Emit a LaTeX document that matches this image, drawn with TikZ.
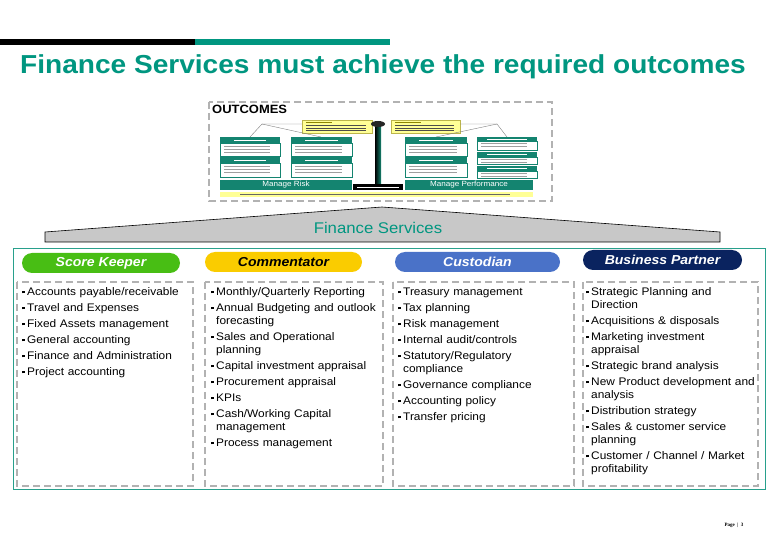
\documentclass[tikz,border=0pt]{standalone}
\usepackage{fontspec}
\setmainfont{Liberation Sans}[FakeStretch=1.08]
\newfontfamily\pagefont{Liberation Serif}
\usetikzlibrary{positioning}

\definecolor{tealfin}{RGB}{0,150,128}
\definecolor{boxteal}{RGB}{40,160,140}
\definecolor{skgreen}{RGB}{72,190,20}
\definecolor{cmyellow}{RGB}{250,204,0}
\definecolor{cublue}{RGB}{74,114,200}
\definecolor{bpnavy}{RGB}{10,35,95}
\definecolor{dashgray}{RGB}{178,178,178}
\definecolor{bandgray}{RGB}{200,200,200}
\definecolor{thumbteal}{RGB}{20,132,112}
\definecolor{thumbyellow}{RGB}{255,255,150}

% voce di elenco con quadratino e rientro sospeso
\newcommand{\itm}{\par\parskip=3pt\hangindent=5pt\hangafter=1\noindent\makebox[5pt][l]{\rule[1.9pt]{2.6pt}{2.6pt}}}

\begin{document}
\begin{tikzpicture}[x=1pt, y=-1pt,
    pill/.style={rounded corners=10pt, minimum height=20pt, inner sep=0pt,
                 font=\fontsize{13}{15}\selectfont\bfseries\itshape},
    itemlist/.style={anchor=north west, inner sep=0pt, text width=180pt, align=left,
                     font=\fontsize{11}{13}\selectfont},
    colbox/.style={draw=dashgray, line width=1.6pt, dash pattern=on 7pt off 4pt},
    txtline/.style={gray!75, line width=0.7pt}]

    \useasboundingbox (0,0) rectangle (780,540);

    % Colonne
    \def\xSK{22}
    \def\xCM{211}
    \def\xCU{398}
    \def\xBP{586}
    \def\yList{279}

    % ----------------------------------------------------
    % 1. Barre e titolo
    % ----------------------------------------------------
    \fill[black] (0,39) rectangle (195,45);
    \fill[tealfin] (195,39) rectangle (390,45);
    \node[tealfin, font=\fontsize{26}{30}\selectfont\bfseries] (title) at (383,67)
        {Finance Services must achieve the required outcomes};

    % ----------------------------------------------------
    % 2. Riquadro OUTCOMES (miniatura)
    % ----------------------------------------------------
    \draw[colbox, line width=1.4pt] (209,102) rectangle (552,201);
    \node[anchor=north west, inner sep=0pt, font=\fontsize{12}{14}\selectfont\bfseries] (outcomes) at (212,105) {OUTCOMES};

    % riquadri gialli in alto
    \foreach \xa/\xb in {302/372, 391/460} {
        \draw[fill=thumbyellow, draw=olive!60, line width=0.4pt] (\xa,120) rectangle (\xb,133);
        \draw[olive, line width=0.6pt] (\xa+4,122.5) -- (\xa+30,122.5);
        \foreach \yy in {125.5,128,130.5}
            \draw[black!70, line width=0.6pt] (\xa+4,\yy) -- (\xb-6,\yy);
    }
    % linee a tenda
    \draw[gray, line width=0.4pt] (250,137) -- (262,124) -- (302,124);
    \draw[gray, line width=0.4pt] (262,124) -- (321,137);
    \draw[gray, line width=0.4pt] (460,124) -- (497,124) -- (507,137);
    \draw[gray, line width=0.4pt] (497,124) -- (436,137);

    % blocchi a due righe
    \foreach \xa/\xb in {220/280, 291/352, 405/467} {
        \foreach \ya/\yb/\yc in {137/143/156, 157/163/177} {
            \fill[thumbteal] (\xa,\ya) rectangle (\xb,\yb);
            \draw[white, line width=0.6pt] (\xa+14,\ya+3) -- (\xb-14,\ya+3);
            \draw[thumbteal, fill=white, line width=0.4pt] (\xa,\yb) rectangle (\xb,\yc);
            \foreach \yy in {3,6,9}
                \draw[txtline] (\xa+4,\yb+\yy) -- (\xb-10,\yb+\yy);
        }
    }
    % colonna destra a tre blocchi
    \foreach \ya/\yb/\yc in {137/141/150, 152/157/164, 166/171/178} {
        \fill[thumbteal] (477,\ya) rectangle (537,\yb);
        \draw[white, line width=0.6pt] (487,\ya+2.5) -- (527,\ya+2.5);
        \draw[thumbteal, fill=white, line width=0.4pt] (477,\yb) rectangle (537,\yc);
        \foreach \yy in {2.5,5}
            \draw[txtline] (481,\yb+\yy) -- (527,\yb+\yy);
    }

    % bande Manage Risk / Manage Performance
    \fill[thumbteal] (220,180) rectangle (352,190);
    \node[white, font=\fontsize{7.5}{8}\selectfont, inner sep=0pt] (risk) at (286,185) {Manage Risk};
    \fill[thumbteal] (405,180) rectangle (533,190);
    \node[white, font=\fontsize{7.5}{8}\selectfont, inner sep=0pt] (perf) at (469,185) {Manage Performance};

    % pilastro centrale
    \shade[left color=black, right color=thumbteal] (375,124) rectangle (381,185);
    \fill[black!85] (378,124) ellipse (7 and 3);
    \fill[black] (353,184) rectangle (403,190);
    \draw[white, line width=0.6pt] (357,187) -- (399,187);

    % barra gialla in basso
    \fill[thumbyellow] (220,192) rectangle (533,197);
    \draw[black!60, line width=0.6pt] (240,194.5) -- (510,194.5);

    % ----------------------------------------------------
    % 3. Banda Finance Services
    % ----------------------------------------------------
    \draw[fill=bandgray, line width=0.6pt] (45,242) -- (45,232) -- (382,207) -- (720,232) -- (720,242) -- cycle;
    \node[tealfin, font=\fontsize{15.5}{18}\selectfont] (fs) at (378,228) {Finance Services};

    % ----------------------------------------------------
    % 4. Riquadro dei quattro ruoli
    % ----------------------------------------------------
    \draw[boxteal, line width=0.9pt] (13,248) rectangle (765,489);

    \node[pill, fill=skgreen, text=white, minimum width=158pt] (sk) at (101,263) {Score Keeper};
    \node[pill, fill=cmyellow, text=black, minimum width=157pt] (cm) at (283.5,262) {Commentator};
    \node[pill, fill=cublue, text=white, minimum width=165pt] (cu) at (477.5,262) {Custodian};
    \node[pill, fill=bpnavy, text=white, minimum width=159pt] (bp) at (662.5,260) {Business Partner};

    \draw[colbox] (17,282) rectangle (193,486);
    \draw[colbox] (205,282) rectangle (383,486);
    \draw[colbox] (393,282) rectangle (574,486);
    \draw[colbox] (583,282) rectangle (758,486);

    \node[itemlist] (skList) at (\xSK,\yList) {%
        \itm Accounts payable/receivable
        \itm Travel and Expenses
        \itm Fixed Assets management
        \itm General accounting
        \itm Finance and Administration
        \itm Project accounting\par};

    \node[itemlist] (cmList) at (\xCM,\yList) {%
        \itm Monthly/Quarterly Reporting
        \itm Annual Budgeting and outlook\newline forecasting
        \itm Sales and Operational\newline planning
        \itm Capital investment appraisal
        \itm Procurement appraisal
        \itm KPIs
        \itm Cash/Working Capital\newline management
        \itm Process management\par};

    \node[itemlist] (cuList) at (\xCU,\yList) {%
        \itm Treasury management
        \itm Tax planning
        \itm Risk management
        \itm Internal audit/controls
        \itm Statutory/Regulatory\newline compliance
        \itm Governance compliance
        \itm Accounting policy
        \itm Transfer pricing\par};

    \node[itemlist] (bpList) at (\xBP,\yList) {%
        \itm Strategic Planning and\newline Direction
        \itm Acquisitions \& disposals
        \itm Marketing investment\newline appraisal
        \itm Strategic brand analysis
        \itm New Product development and\newline analysis
        \itm Distribution strategy
        \itm Sales \& customer service\newline planning
        \itm Customer / Channel / Market\newline profitability\par};

    % numero di pagina
    \node[font=\pagefont\bfseries\fontsize{5}{6}\selectfont, inner sep=0pt] (page) at (734,525) {Page\enspace|\enspace 3};

\end{tikzpicture}
\end{document}
